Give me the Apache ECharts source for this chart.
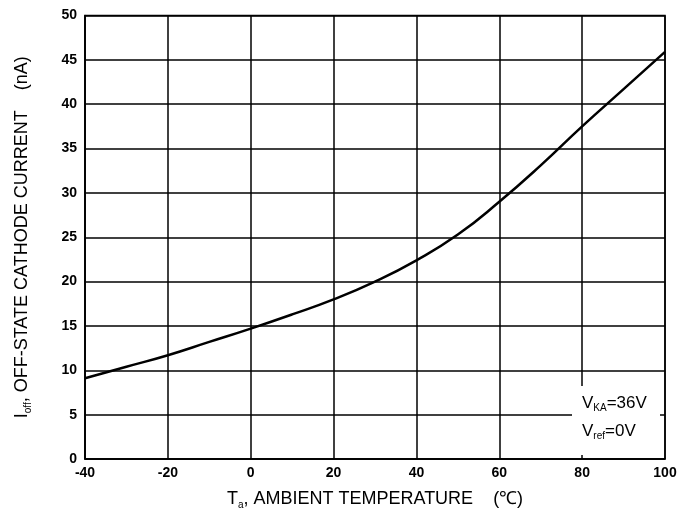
<!DOCTYPE html>
<html><head><meta charset="utf-8">
<script src="https://cdn.jsdelivr.net/npm/echarts@6/dist/echarts.min.js"></script>
<style>html,body{margin:0;padding:0;background:#fff}#c{width:680px;height:511px}</style>
</head><body><div id="c"></div>
<script>
const temperatures = [-40, -30, -20, -10, 0, 10, 20, 30, 40, 50, 60, 70, 80, 90, 100];
const currentNA = [9.1, 10.4, 11.7, 13.2, 14.7, 16.3, 18.0, 20.0, 22.4, 25.3, 29.0, 33.1, 37.5, 41.7, 45.9];
const xTicks = [-40, -20, 0, 20, 40, 60, 80, 100];
const yTicks = [0, 5, 10, 15, 20, 25, 30, 35, 40, 45, 50];

const chart = echarts.init(document.getElementById('c'));
const font = 'Liberation Sans, Arial, sans-serif';
chart.setOption({
  animation: false,
  grid: { left: 85, right: 15, top: 15.5, bottom: 52, show: true, borderColor: '#000', borderWidth: 1.5,
          containLabel: false, outerBoundsMode: 'none' },
  xAxis: {
    type: 'value', min: -40, max: 100, interval: 20,
    axisLine: { show: true, onZero: false, lineStyle: { color: '#000', width: 1.5 } },
    axisTick: { show: false },
    splitLine: { show: true, lineStyle: { color: '#000', width: 1.5 } },
    axisLabel: { color: '#000', fontSize: 14, fontWeight: 'bold', fontFamily: font, margin: 7 },
    name: '{m|T}{s|a}{m|, AMBIENT TEMPERATURE    (℃)}',
    nameLocation: 'middle', nameGap: 29,
    nameTextStyle: { rich: {
      m: { fontSize: 18, fontFamily: font, color: '#000' },
      s: { fontSize: 10, fontFamily: font, color: '#000', padding: [12, 0, 0, 0] }
    } }
  },
  yAxis: {
    type: 'value', min: 0, max: 50, interval: 5,
    axisLine: { show: true, onZero: false, lineStyle: { color: '#000', width: 1.5 } },
    axisTick: { show: false },
    splitLine: { show: true, lineStyle: { color: '#000', width: 1.5 } },
    axisLabel: { color: '#000', fontSize: 14, fontWeight: 'bold', fontFamily: font, margin: 8 },
    name: '{m|I}{s|off}{m|, OFF-STATE CATHODE CURRENT    (nA)}',
    nameLocation: 'middle', nameGap: 52,
    nameTextStyle: { rich: {
      m: { fontSize: 18, fontFamily: font, color: '#000' },
      s: { fontSize: 10, fontFamily: font, color: '#000', padding: [12, 0, 0, 0] }
    } }
  },
  series: [{
    type: 'line', smooth: true, showSymbol: false,
    data: temperatures.map((t, i) => [t, currentNA[i]]),
    lineStyle: { color: '#000', width: 2.5 }
  }],
  graphic: [
    { type: 'rect', shape: { x: 572, y: 386, width: 88, height: 69 }, style: { fill: '#fff' }, z: 10 },
    { type: 'text', left: 582, top: 395, z: 11,
      style: { text: '{m|V}{s|KA}{m|=36V}', rich: {
        m: { fontSize: 17, fontFamily: font, fill: '#000' },
        s: { fontSize: 10, fontFamily: font, fill: '#000', padding: [10, 0, 0, 0] } } } },
    { type: 'text', left: 582, top: 423, z: 11,
      style: { text: '{m|V}{s|ref}{m|=0V}', rich: {
        m: { fontSize: 17, fontFamily: font, fill: '#000' },
        s: { fontSize: 10, fontFamily: font, fill: '#000', padding: [10, 0, 0, 0] } } } }
  ]
});
</script></body></html>
